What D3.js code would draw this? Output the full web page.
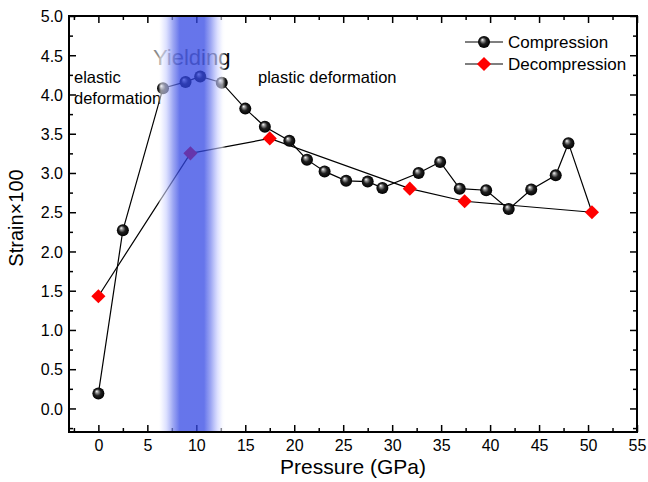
<!DOCTYPE html>
<html>
<head>
<meta charset="utf-8">
<script src="https://cdn.jsdelivr.net/npm/d3@7"></script>
<style>
  html, body { margin: 0; padding: 0; background: #fff; }
  svg { display: block; font-family: Arial, "Liberation Sans", sans-serif; }
</style>
</head>
<body>
<svg id="chart" width="648" height="482"></svg>
<script>
// Strain vs. pressure, compression and decompression runs
const compressionP = [0, 2.5, 6.6, 8.9, 10.4, 12.6, 15.0, 17.0, 19.5, 21.3, 23.1, 25.3, 27.5, 29.0, 32.7, 34.9, 36.9, 39.6, 41.9, 44.2, 46.7, 48.0];
const compressionS = [0.19, 2.27, 4.08, 4.16, 4.23, 4.15, 3.82, 3.59, 3.41, 3.17, 3.02, 2.90, 2.89, 2.81, 3.00, 3.14, 2.80, 2.78, 2.54, 2.79, 2.97, 3.38];
const decompressionP = [50.4, 37.4, 31.8, 17.5, 9.4, 0];
const decompressionS = [2.50, 2.64, 2.80, 3.44, 3.25, 1.43];

const xTicks = [0, 5, 10, 15, 20, 25, 30, 35, 40, 45, 50, 55];
const yTicks = [0.0, 0.5, 1.0, 1.5, 2.0, 2.5, 3.0, 3.5, 4.0, 4.5, 5.0];
const xDomain = [-3, 55];
const yDomain = [-0.3, 5.0];
const yieldBand = [6.1, 13.0];   // GPa range of the yielding region
const seriesNames = ["Compression", "Decompression"];

const svg = d3.select("#chart");
const plotL = 69, plotR = 637, plotT = 16, plotB = 432;

const x = d3.scaleLinear().domain(xDomain).range([plotL, plotR]);
const y = d3.scaleLinear().domain(yDomain).range([plotB, plotT]);

const defs = svg.append("defs");

// shaded sphere marker
const sph = defs.append("radialGradient").attr("id", "sphere")
  .attr("cx", "50%").attr("cy", "50%").attr("r", "50%")
  .attr("fx", "35%").attr("fy", "30%");
sph.append("stop").attr("offset", "0").attr("stop-color", "#ffffff");
sph.append("stop").attr("offset", "0.22").attr("stop-color", "#9a9a9a");
sph.append("stop").attr("offset", "0.55").attr("stop-color", "#202020");
sph.append("stop").attr("offset", "1").attr("stop-color", "#000000");

// yielding band: whitish edges, blue core
const band = defs.append("linearGradient").attr("id", "band")
  .attr("x1", "0").attr("x2", "1").attr("y1", "0").attr("y2", "0");
[
  [0.00, "#ffffff", 0.0],
  [0.04, "#f4f5ff", 0.55],
  [0.12, "#c8ceff", 0.62],
  [0.22, "#7482ee", 0.7],
  [0.32, "#3347e4", 0.75],
  [0.68, "#3347e4", 0.75],
  [0.78, "#7482ee", 0.7],
  [0.88, "#c8ceff", 0.62],
  [0.95, "#f4f5ff", 0.55],
  [1.00, "#ffffff", 0.0]
].forEach(([o, c, a]) => band.append("stop").attr("offset", o).attr("stop-color", c).attr("stop-opacity", a));

// label fill: grey on the left, dark where it leaves the band
const yText = defs.append("linearGradient").attr("id", "yieldText")
  .attr("gradientUnits", "userSpaceOnUse")
  .attr("x1", 153).attr("x2", 233).attr("y1", 0).attr("y2", 0);
yText.append("stop").attr("offset", 0).attr("stop-color", "#8c8c8c");
yText.append("stop").attr("offset", 0.7).attr("stop-color", "#6a6a6a");
yText.append("stop").attr("offset", 0.85).attr("stop-color", "#111");
yText.append("stop").attr("offset", 1).attr("stop-color", "#000");

// axes with inward ticks
function inwardAxis(axisFn, scale, ticks, minorTicks, transform, fmt) {
  const gMinor = svg.append("g").attr("transform", transform)
    .call(axisFn(scale).tickValues(minorTicks).tickSize(-4).tickFormat(""));
  const gMajor = svg.append("g").attr("transform", transform)
    .call(axisFn(scale).tickValues(ticks).tickSize(-7).tickFormat(fmt || ""));
  [gMinor, gMajor].forEach(g => {
    g.select(".domain").remove();
    g.selectAll(".tick line").attr("stroke", "#000").attr("stroke-width", 1.5);
  });
  return gMajor;
}

const xMinor = d3.range(-2.5, 55.01, 2.5).filter(v => Math.abs(v % 5) > 1e-9);
const yMinor = d3.range(-0.25, 5.001, 0.25).filter(v => Math.abs((v * 2) % 1) > 1e-9);

const gxb = inwardAxis(d3.axisBottom, x, xTicks, xMinor, `translate(0,${plotB})`, d3.format("d"));
gxb.selectAll(".tick text").attr("y", 8).attr("dy", "0.71em")
  .attr("font-size", 16).attr("fill", "#000").attr("font-family", "Arial, 'Liberation Sans', sans-serif");
inwardAxis(d3.axisTop, x, xTicks, xMinor, `translate(0,${plotT})`, null)
  .selectAll(".tick text").remove();

const gyl = inwardAxis(d3.axisLeft, y, yTicks, yMinor, `translate(${plotL},0)`, d3.format(".1f"));
gyl.selectAll(".tick text").attr("x", -6).attr("dy", "0.36em")
  .attr("font-size", 16).attr("fill", "#000").attr("font-family", "Arial, 'Liberation Sans', sans-serif");
inwardAxis(d3.axisRight, y, yTicks, yMinor, `translate(${plotR},0)`, null)
  .selectAll(".tick text").remove();

// frame
svg.append("rect").attr("x", plotL).attr("y", plotT)
  .attr("width", plotR - plotL).attr("height", plotB - plotT)
  .attr("fill", "none").attr("stroke", "#000").attr("stroke-width", 2);

// axis titles
svg.append("text").attr("x", 353).attr("y", 474)
  .attr("text-anchor", "middle").attr("font-size", 21).text("Pressure (GPa)");
svg.append("text").attr("transform", `translate(23,${(plotT + plotB) / 2 - 6}) rotate(-90)`)
  .attr("text-anchor", "middle").attr("font-size", 20).text("Strain\u00d7100");

// region labels
svg.append("text").attr("x", 74).attr("y", 83).attr("font-size", 16.5).text("elastic");
svg.append("text").attr("x", 74).attr("y", 104).attr("font-size", 16.5).text("deformation");
svg.append("text").attr("x", 258).attr("y", 83).attr("font-size", 16.5).text("plastic deformation");
svg.append("text").attr("x", 153).attr("y", 65).attr("font-size", 22).attr("fill", "url(#yieldText)").text("Yielding");

const comp = compressionP.map((p, i) => [p, compressionS[i]]);
const decomp = decompressionP.map((p, i) => [p, decompressionS[i]]);

const line = d3.line().x(d => x(d[0])).y(d => y(d[1]));

// compression path runs on to the turning point where decompression starts
svg.append("path").datum(comp.concat([decomp[0]]))
  .attr("d", line).attr("fill", "none").attr("stroke", "#000").attr("stroke-width", 1.2);
svg.append("path").datum(decomp)
  .attr("d", line).attr("fill", "none").attr("stroke", "#000").attr("stroke-width", 1.2);

svg.append("g").selectAll("circle").data(comp).join("circle")
  .attr("cx", d => x(d[0])).attr("cy", d => y(d[1])).attr("r", 6)
  .attr("fill", "url(#sphere)");

const diamond = d3.symbol().type(d3.symbolSquare).size(100);
svg.append("g").selectAll("path").data(decomp).join("path")
  .attr("transform", d => `translate(${x(d[0])},${y(d[1])}) rotate(45)`)
  .attr("d", diamond).attr("fill", "#ff0000");

// translucent yielding band drawn over the data
svg.append("rect")
  .attr("x", x(yieldBand[0])).attr("y", plotT + 1)
  .attr("width", x(yieldBand[1]) - x(yieldBand[0]))
  .attr("height", plotB - plotT - 2)
  .attr("fill", "url(#band)");

// legend
const legend = svg.append("g");
const lx0 = 465, lx1 = 503, lxm = 484;
[42, 64].forEach((ly, i) => {
  legend.append("line").attr("x1", lx0).attr("x2", lx1).attr("y1", ly).attr("y2", ly)
    .attr("stroke", "#000").attr("stroke-width", 1.2);
  if (i === 0) {
    legend.append("circle").attr("cx", lxm).attr("cy", ly).attr("r", 6).attr("fill", "url(#sphere)");
  } else {
    legend.append("path").attr("transform", `translate(${lxm},${ly}) rotate(45)`)
      .attr("d", diamond).attr("fill", "#ff0000");
  }
  legend.append("text").attr("x", 508).attr("y", ly + 6).attr("font-size", 17).text(seriesNames[i]);
});
</script>
</body>
</html>
